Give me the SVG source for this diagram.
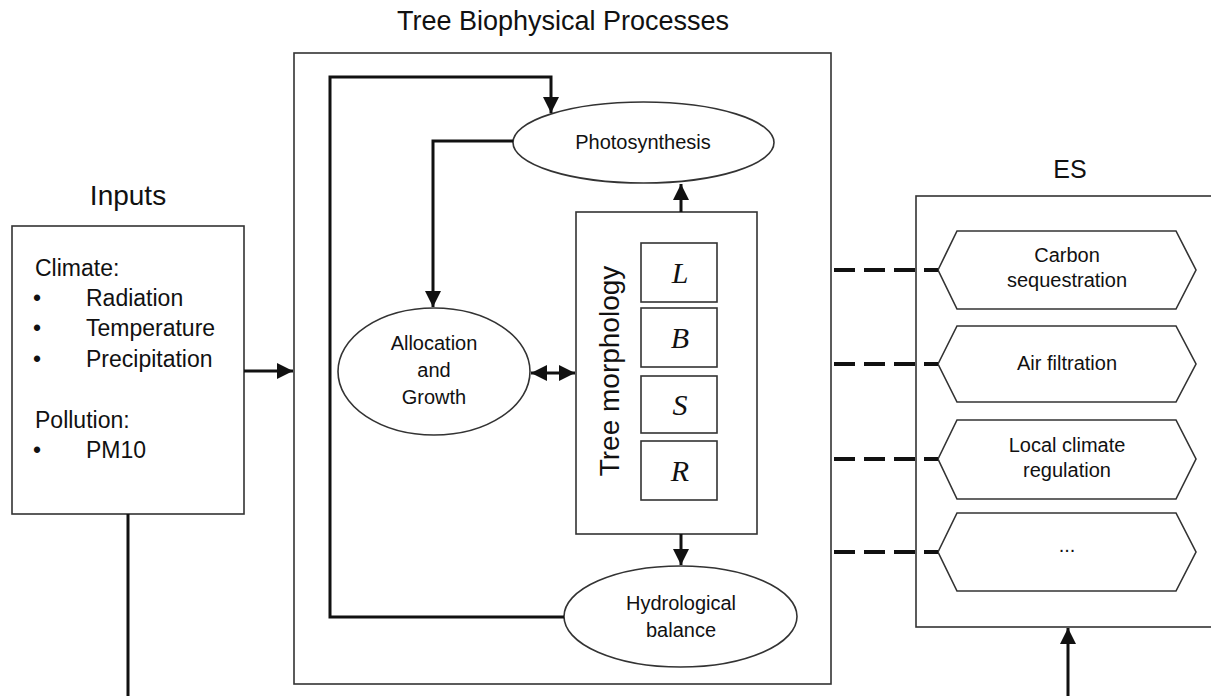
<svg xmlns="http://www.w3.org/2000/svg" width="1211" height="696" viewBox="0 0 1211 696">
<defs>
<style>
text{font-family:"Liberation Sans",Arial,sans-serif;fill:#111}
.box{fill:#fff;stroke:#333;stroke-width:1.6}
.conn{fill:none;stroke:#111;stroke-width:3}
.dash{fill:none;stroke:#111;stroke-width:4;stroke-dasharray:21 9}
.t20{font-size:20px;text-anchor:middle}
.hx{font-size:20px;text-anchor:middle}
.inp{font-size:23px}
.ltr{font-family:"Liberation Serif","Times New Roman",serif;font-style:italic;font-size:30px;text-anchor:middle}
.title{font-size:27px;text-anchor:middle}
</style>
<marker id="ah" markerUnits="userSpaceOnUse" markerWidth="16" markerHeight="16" refX="15" refY="7.5" orient="auto-start-reverse" viewBox="0 0 15 15">
<path d="M0,0 L15,7.5 L0,15 z" fill="#111"/>
</marker>
</defs>
<rect width="1211" height="696" fill="#fff"/>

<text class="title" x="563" y="30">Tree Biophysical Processes</text>
<text class="title" x="128" y="205" style="font-size:28px">Inputs</text>
<text class="title" x="1070" y="178" style="font-size:25px">ES</text>

<g id="inputs">
<rect class="box" x="12" y="226" width="232" height="288"/>
<text class="inp" x="35" y="276">Climate:</text>
<text class="inp" x="33" y="306">•</text><text class="inp" x="86" y="306">Radiation</text>
<text class="inp" x="33" y="336">•</text><text class="inp" x="86" y="336">Temperature</text>
<text class="inp" x="33" y="367">•</text><text class="inp" x="86" y="367">Precipitation</text>
<text class="inp" x="35" y="428">Pollution:</text>
<text class="inp" x="33" y="458">•</text><text class="inp" x="86" y="458">PM10</text>
</g>

<g id="tree-biophysical-processes">
<rect class="box" x="294" y="53" width="537" height="631"/>
</g>

<g id="es">
<rect class="box" x="916" y="196" width="300" height="431"/>
</g>

<g id="photosynthesis">
<ellipse class="box" cx="643.5" cy="142.5" rx="130.5" ry="40.5"/>
<text class="t20" x="643" y="149">Photosynthesis</text>
</g>

<g id="allocation">
<ellipse class="box" cx="434" cy="371.5" rx="96" ry="63.5"/>
<text class="t20" x="434" y="350">Allocation</text>
<text class="t20" x="434" y="377">and</text>
<text class="t20" x="434" y="404">Growth</text>
</g>

<g id="tree-morphology">
<rect class="box" x="576" y="212" width="181" height="322"/>
<text x="0" y="0" transform="translate(619,371) rotate(-90)" style="font-size:28px;text-anchor:middle">Tree morphology</text>
<rect class="box" x="641" y="243" width="76" height="59"/>
<text class="ltr" x="680" y="283">L</text>
<rect class="box" x="641" y="308" width="76" height="59"/>
<text class="ltr" x="680" y="348">B</text>
<rect class="box" x="641" y="376" width="76" height="57"/>
<text class="ltr" x="680" y="415">S</text>
<rect class="box" x="641" y="441" width="76" height="59"/>
<text class="ltr" x="680" y="481">R</text>
</g>

<g id="hydrological">
<ellipse class="box" cx="680.5" cy="616.5" rx="116.5" ry="50.5"/>
<text class="t20" x="681" y="610">Hydrological</text>
<text class="t20" x="681" y="637">balance</text>
</g>

<g id="es-carbon">
<polygon class="box" points="938,270 957,231 1176,231 1196,270 1176,309 957,309"/>
<text class="hx" x="1067" y="262">Carbon</text>
<text class="hx" x="1067" y="287">sequestration</text>
</g>
<g id="es-air">
<polygon class="box" points="938,364 957,326 1176,326 1196,364 1176,402 957,402"/>
<text class="hx" x="1067" y="370">Air filtration</text>
</g>
<g id="es-climate">
<polygon class="box" points="938,459 957,420 1176,420 1196,459 1176,499 957,499"/>
<text class="hx" x="1067" y="452">Local climate</text>
<text class="hx" x="1067" y="477">regulation</text>
</g>
<g id="es-more">
<polygon class="box" points="938,552 957,513 1176,513 1196,552 1176,591 957,591"/>
<text class="hx" x="1067" y="552">...</text>
</g>

<g id="connectors">
<line class="conn" x1="244" y1="371" x2="293" y2="371" marker-end="url(#ah)"/>
<polyline class="conn" points="564,617 330,617 330,77 551,77 551,113" marker-end="url(#ah)"/>
<polyline class="conn" points="513,141 433,141 433,307" marker-end="url(#ah)"/>
<line class="conn" x1="681" y1="212" x2="681" y2="184" marker-end="url(#ah)"/>
<line class="conn" x1="681" y1="534" x2="681" y2="565" marker-end="url(#ah)"/>
<line class="conn" x1="531" y1="373" x2="575" y2="373" marker-start="url(#ah)" marker-end="url(#ah)"/>
<polyline class="conn" points="128,514 128,699 1068,699 1068,628" marker-end="url(#ah)"/>
<line class="dash" x1="834" y1="270" x2="938" y2="270"/>
<line class="dash" x1="834" y1="364" x2="938" y2="364"/>
<line class="dash" x1="834" y1="459" x2="938" y2="459"/>
<line class="dash" x1="834" y1="552" x2="938" y2="552"/>
</g>
</svg>
